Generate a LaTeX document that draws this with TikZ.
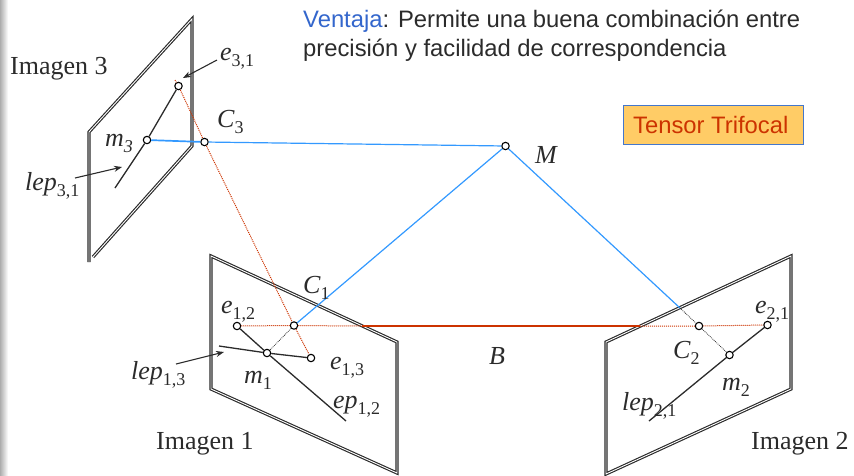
\documentclass[tikz,border=0pt]{standalone}
\usepackage{fontspec}
\setmainfont{Liberation Serif}
\newfontfamily\arialf{Liberation Sans}
\definecolor{ink}{HTML}{2B2B2B}
\definecolor{bluel}{HTML}{3399FF}
\definecolor{redl}{HTML}{CC3300}
\definecolor{boxfill}{HTML}{FFCC66}
\definecolor{boxline}{HTML}{4477CC}
\definecolor{headblue}{HTML}{3366CC}
\newcommand{\lab}[2]{{\itshape #1}\raisebox{-0.24em}{\fontsize{18}{18}\selectfont #2}}
\newcommand{\labi}[2]{{\itshape #1\raisebox{-0.24em}{\fontsize{18}{18}\selectfont #2}}}
\tikzset{
  x=1pt,y=-1pt,
  frame/.style={draw=ink,line width=1.15pt,double=white,double distance=0.9pt,line join=miter},
  pt/.style={circle,draw=black,fill=white,line width=1.1pt,inner sep=0pt,minimum size=7.4pt},
  lbl/.style={anchor=base west,inner sep=0pt,text=ink,font=\fontsize{26}{26}\selectfont},
  sans/.style={anchor=base west,inner sep=0pt,text=ink,font=\arialf\fontsize{23.8}{23.8}\selectfont},
  epi/.style={draw=ink,line width=1.3pt},
  bluec/.style={draw=bluel,line width=1.2pt},
  reddot/.style={draw=redl,line width=1pt,densely dotted},
  blackdot/.style={draw=ink,line width=0.8pt,densely dotted},
  pointer/.style={draw=ink,line width=1.1pt,-{Stealth[length=8pt,width=6pt]}},
}
\usetikzlibrary{arrows.meta}
\begin{document}
\begin{tikzpicture}
\useasboundingbox (0,0) rectangle (854,475);
\shade[left color=black!32,right color=white] (0,0) rectangle (8,475);
% frames
\draw[frame] (89,262) -- (89,132) -- (192,19) -- (192,146) -- (93,257);
\draw[frame] (211,256) -- (397,342) -- (397,473) -- (211,389) -- cycle;
\draw[frame] (791,256) -- (606,342) -- (606,474) -- (791,389) -- cycle;
% points
\node[pt] (e31) at (178.5,86) {};
\node[pt] (m3) at (147,140) {};
\node[pt] (C3) at (204.5,142) {};
\node[pt] (M) at (505.5,146) {};
\node[pt] (C1) at (294,325.5) {};
\node[pt] (m1) at (267,353) {};
\node[pt] (e12) at (237,326) {};
\node[pt] (e13) at (311,358) {};
\node[pt] (C2) at (699,326) {};
\node[pt] (m2) at (729.5,355) {};
\node[pt] (e21) at (767.5,325) {};
% free ends
\coordinate (lep3end) at (115,188);
\coordinate (ep12end) at (346,421);
\coordinate (lep13end) at (219,346);
\coordinate (lep21end) at (649,421);
\coordinate (redtop) at (175,80);
\coordinate (redA) at (362,326);
\coordinate (redB) at (640,326);
\coordinate (blueEnd) at (680,308);
\coordinate (a1s) at (217,60);
\coordinate (a1e) at (183,78);
\coordinate (a2s) at (75,178);
\coordinate (a2e) at (122,167);
\coordinate (a3s) at (176,364);
\coordinate (a3e) at (224,352);
% epipolar lines
\draw[epi] (e31) -- (m3) -- (lep3end);
\draw[epi] (e12) -- (m1) -- (ep12end);
\draw[epi] (lep13end) -- (m1) -- (e13);
\draw[epi] (e21) -- (m2) -- (lep21end);
% red
\draw[reddot] (redtop) -- (e31) -- (C3) -- (C1) -- (e13);
\draw[reddot] (e12) -- (C1) -- (redA);
\draw[reddot] (redB) -- (C2) -- (e21);
\draw[draw=redl,line width=2.2pt] (redA) -- (redB);
% blue
\draw[bluec,line width=1.7pt] (m3) -- (C3);
\draw[bluec] (C3) -- (M);
\draw[bluec] (C1) -- (M);
\draw[bluec] (M) -- (blueEnd);
% dotted
\draw[blackdot] (blueEnd) -- (C2) -- (m2);
\draw[blackdot] (C1) -- (m1);
% pointers
\draw[pointer] (a1s) -- (a1e);
\draw[pointer] (a2s) -- (a2e);
\draw[pointer] (a3s) -- (a3e);
% labels
\node[lbl] (t1) at (10,74) {Imagen 3};
\node[lbl] (t2) at (156,449) {Imagen 1};
\node[lbl] (t3) at (751,449) {Imagen 2};
\node[lbl] (l1) at (220,60) {\lab{e}{3,1}};
\node[lbl] (l2) at (217,127) {\lab{C}{3}};
\node[lbl] (l3) at (105,146) {\labi{m}{3}};
\node[lbl] (l4) at (25,190) {\lab{lep}{3,1}};
\node[lbl] (l5) at (303,293) {\lab{C}{1}};
\node[lbl] (l6) at (221,313) {\lab{e}{1,2}};
\node[lbl] (l7) at (131,379) {\lab{lep}{1,3}};
\node[lbl] (l8) at (244,383) {\lab{m}{1}};
\node[lbl] (l9) at (330,369) {\lab{e}{1,3}};
\node[lbl] (l10) at (333,408) {\lab{ep}{1,2}};
\node[lbl] (l11) at (673,358) {\lab{C}{2}};
\node[lbl] (l12) at (722,390) {\lab{m}{2}};
\node[lbl] (l13) at (622,410) {\lab{lep}{2,1}};
\node[lbl] (l14) at (755,313) {\lab{e}{2,1}};
\node[lbl] (l15) at (535,163) {\textit{M}};
\node[lbl] (l16) at (489,364) {\textit{B}};
\node[sans] (h1) at (303,27) {\textcolor{headblue}{Ventaja}: Permite una buena combinación entre};
\node[sans] (h2) at (303,56) {precisión y facilidad de correspondencia};
\node[draw=boxline,fill=boxfill,line width=1pt,minimum width=180pt,minimum height=39pt,inner sep=0pt] (tt) at (713,124.5) {};
\node[sans,text=redl] (tt2) at (633,133) {Tensor Trifocal};
\end{tikzpicture}
\end{document}
